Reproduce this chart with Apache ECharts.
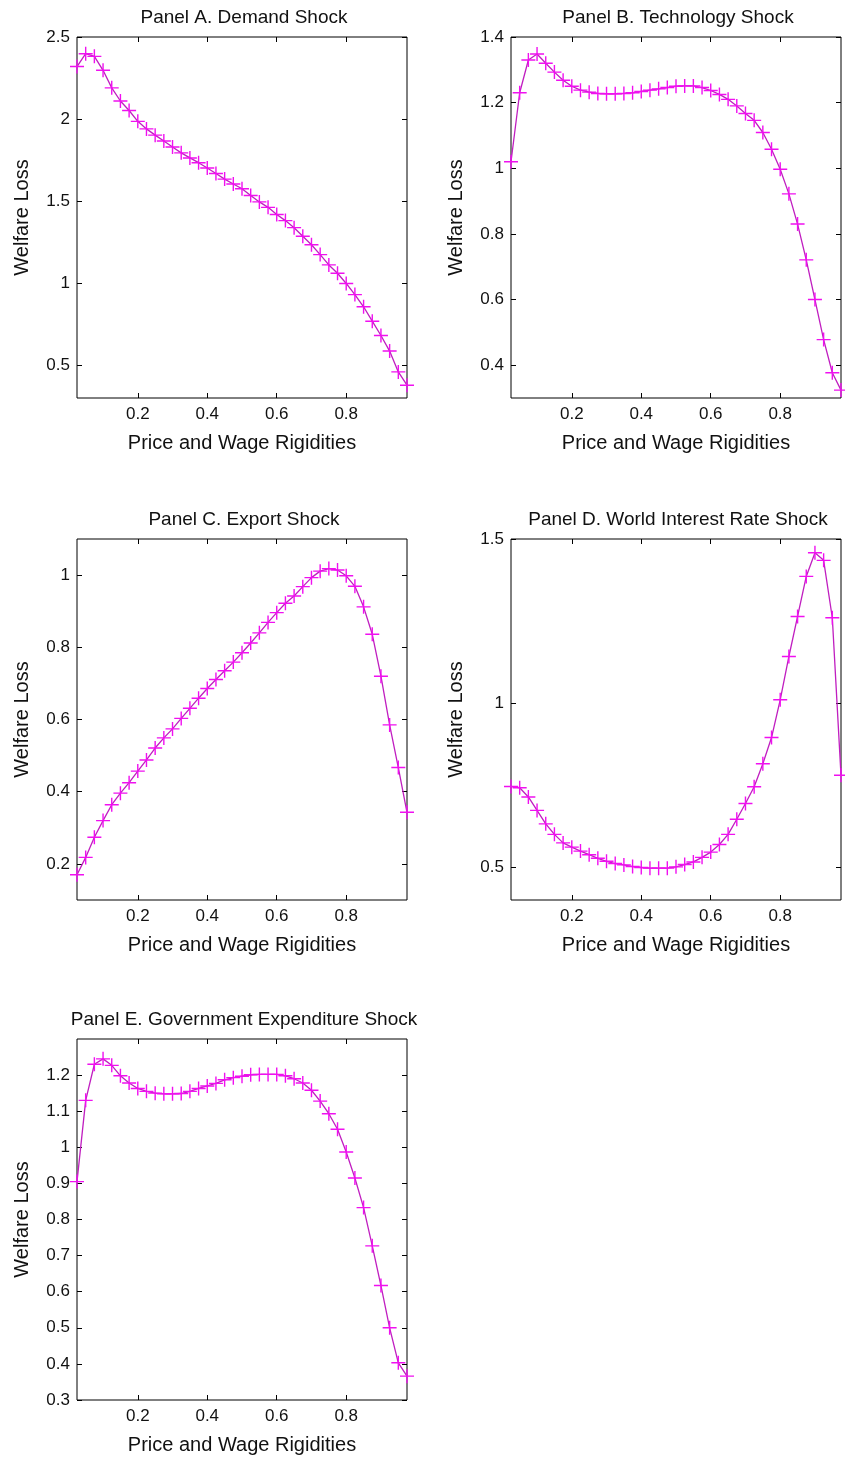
<!DOCTYPE html>
<html><head><meta charset="utf-8">
<script src="https://cdn.jsdelivr.net/npm/echarts@6/dist/echarts.min.js"></script>
<style>html,body{margin:0;padding:0;background:#fff}#c{width:845px;height:1458px}</style>
</head><body><div id="c"></div>
<script>
// ---- data ----
const xValues = [0.025,0.05,0.075,0.1,0.125,0.15,0.175,0.2,0.225,0.25,0.275,0.3,0.325,0.35,0.375,0.4,0.425,0.45,0.475,0.5,0.525,0.55,0.575,0.6,0.625,0.65,0.675,0.7,0.725,0.75,0.775,0.8,0.825,0.85,0.875,0.9,0.925,0.95,0.975];
const demandShock = [2.32,2.398,2.382,2.297,2.19,2.11,2.052,1.986,1.94,1.902,1.866,1.83,1.794,1.763,1.734,1.702,1.668,1.634,1.604,1.575,1.534,1.495,1.462,1.418,1.381,1.338,1.286,1.234,1.174,1.111,1.06,0.998,0.93,0.856,0.768,0.681,0.586,0.459,0.378];
const technologyShock = [1.02,1.23,1.33,1.348,1.32,1.293,1.268,1.25,1.238,1.232,1.228,1.227,1.227,1.228,1.23,1.234,1.238,1.242,1.246,1.25,1.251,1.251,1.246,1.237,1.225,1.21,1.19,1.167,1.146,1.109,1.058,0.997,0.922,0.83,0.721,0.6,0.478,0.377,0.324];
const exportShock = [0.17,0.218,0.274,0.32,0.364,0.396,0.425,0.457,0.488,0.521,0.549,0.574,0.603,0.631,0.659,0.686,0.711,0.735,0.759,0.785,0.812,0.84,0.869,0.896,0.922,0.942,0.968,0.993,1.011,1.018,1.014,0.998,0.969,0.912,0.836,0.72,0.585,0.467,0.343];
const worldInterestRateShock = [0.746,0.742,0.714,0.673,0.632,0.6,0.574,0.561,0.549,0.538,0.527,0.518,0.511,0.507,0.502,0.499,0.497,0.497,0.497,0.501,0.508,0.516,0.53,0.546,0.569,0.6,0.646,0.694,0.745,0.815,0.895,1.01,1.142,1.264,1.386,1.458,1.435,1.26,0.78];
const governmentExpenditureShock = [0.905,1.13,1.23,1.245,1.227,1.198,1.178,1.163,1.155,1.15,1.148,1.148,1.149,1.155,1.163,1.17,1.177,1.187,1.193,1.197,1.201,1.202,1.202,1.202,1.198,1.19,1.178,1.158,1.128,1.093,1.05,0.987,0.915,0.833,0.727,0.617,0.5,0.403,0.366];
const panelTitles = ['Panel A. Demand Shock','Panel B. Technology Shock','Panel C. Export Shock','Panel D. World Interest Rate Shock','Panel E. Government Expenditure Shock'];
const xTickValues = [0.2,0.4,0.6,0.8];
const yTicksA = [0.5,1,1.5,2,2.5];
const yTicksB = [0.4,0.6,0.8,1,1.2,1.4];
const yTicksC = [0.2,0.4,0.6,0.8,1];
const yTicksD = [0.5,1,1.5];
const yTicksE = [0.3,0.4,0.5,0.6,0.7,0.8,0.9,1,1.1,1.2];
const yRanges = [[0.3,2.5],[0.3,1.4],[0.1,1.1],[0.4,1.5],[0.3,1.3]];
const xRange = [0.025,0.975];
const xAxisName = 'Price and Wage Rigidities';
const yAxisName = 'Welfare Loss';

// ---- layout ----
const seriesValues = [demandShock, technologyShock, exportShock, worldInterestRateShock, governmentExpenditureShock];
const yTicks = [yTicksA, yTicksB, yTicksC, yTicksD, yTicksE];
const layout = [
  {left:77, top:37}, {left:511, top:37},
  {left:77, top:539}, {left:511, top:539},
  {left:77, top:1039}
];
const W = 330, H = 361;
const FONT = 'Liberation Sans';
const lineColor = '#c01ec0';
const markColor = '#f010f0';
const fmt = v => String(Math.round(v*10)/10);

const grid = [], xAxis = [], yAxis = [], series = [], title = [];
layout.forEach((p, i) => {
  grid.push({left:p.left, top:p.top, width:W, height:H, show:true, borderColor:'#000', borderWidth:1, backgroundColor:'#fff'});
  title.push({text: panelTitles[i], left: p.left + W/2 - 3, top: p.top - 34, textAlign:'center',
    textStyle:{fontFamily:FONT, fontSize:19, fontWeight:'normal', color:'#111'}});
  const tickStyle = {inside:true, length:5, lineStyle:{color:'#000', width:1}};
  xAxis.push({type:'value', gridIndex:i, position:'bottom', min:xRange[0], max:xRange[1],
    axisLine:{show:false}, splitLine:{show:false},
    axisTick:Object.assign({customValues:xTickValues}, tickStyle),
    axisLabel:{customValues:xTickValues, formatter:fmt, margin:8, fontFamily:FONT, fontSize:17, color:'#111'},
    name:xAxisName, nameLocation:'middle', nameGap:35, nameTextStyle:{fontFamily:FONT, fontSize:20, color:'#111'}});
  xAxis.push({type:'value', gridIndex:i, position:'top', min:xRange[0], max:xRange[1],
    axisLine:{show:false}, splitLine:{show:false}, axisLabel:{show:false},
    axisTick:Object.assign({customValues:xTickValues}, tickStyle)});
  yAxis.push({type:'value', gridIndex:i, position:'left', min:yRanges[i][0], max:yRanges[i][1],
    axisLine:{show:false}, splitLine:{show:false},
    axisTick:Object.assign({customValues:yTicks[i]}, tickStyle),
    axisLabel:{customValues:yTicks[i], formatter:fmt, margin:7, fontFamily:FONT, fontSize:17, color:'#111'},
    name:yAxisName, nameLocation:'middle', nameGap:45, nameRotate:90, nameTextStyle:{fontFamily:FONT, fontSize:20, color:'#111'}});
  yAxis.push({type:'value', gridIndex:i, position:'right', min:yRanges[i][0], max:yRanges[i][1],
    axisLine:{show:false}, splitLine:{show:false}, axisLabel:{show:false},
    axisTick:Object.assign({customValues:yTicks[i]}, tickStyle)});
  series.push({type:'line', xAxisIndex:2*i, yAxisIndex:2*i,
    data: xValues.map((x, k) => [x, seriesValues[i][k]]),
    symbol:'path://M0,5.4H12V6.6H0Z M5.4,0H6.6V12H5.4Z', symbolSize:14, showAllSymbol:true,
    itemStyle:{color:markColor}, lineStyle:{color:lineColor, width:1.3}, clip:false, z:3});
});

const chart = echarts.init(document.getElementById('c'), null, {renderer:'canvas'});
chart.setOption({animation:false, backgroundColor:'#fff', title, grid, xAxis, yAxis, series});
</script></body></html>
